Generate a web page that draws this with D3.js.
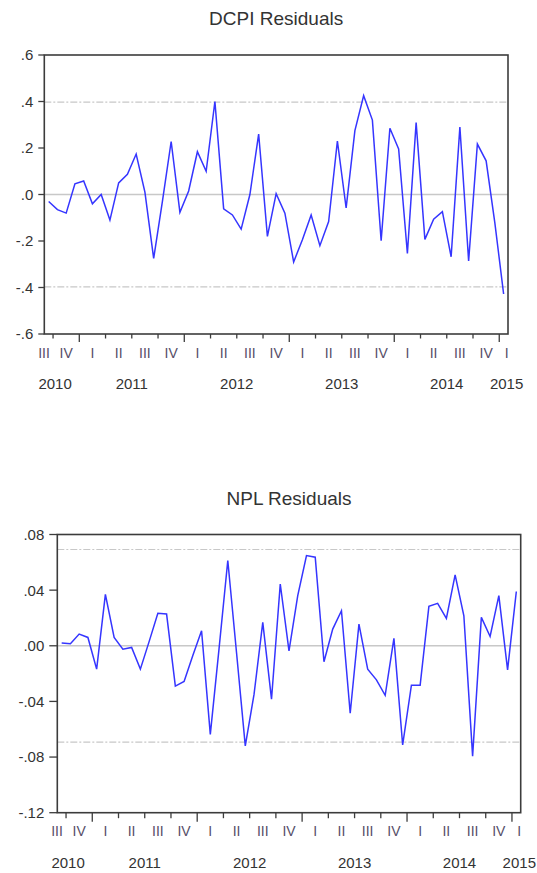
<!DOCTYPE html>
<html>
<head>
<meta charset="utf-8">
<script src="https://cdn.jsdelivr.net/npm/d3@7"></script>
<style>
  html, body { margin: 0; padding: 0; background: #fff; }
  svg { display: block; font-family: "Liberation Sans", Arial, sans-serif; }
</style>
</head>
<body>
<svg id="chart" width="537" height="873"></svg>
<script>
// ---------------- DATA ----------------
// monthly observations, Sep 2010 .. Jan 2015
const months = d3.timeMonth.range(new Date(2010, 8, 1), new Date(2015, 1, 1));

const dcpiResiduals = [
  -0.030, -0.065, -0.080, 0.046, 0.058, -0.040, 0.000, -0.110, 0.050, 0.087,
  0.174, 0.010, -0.275, -0.030, 0.228, -0.077, 0.015, 0.184, 0.100, 0.400,
  -0.062, -0.088, -0.149, 0.000, 0.260, -0.180, 0.004, -0.080, -0.290, -0.195,
  -0.088, -0.220, -0.116, 0.230, -0.058, 0.275, 0.425, 0.320, -0.199, 0.285,
  0.196, -0.254, 0.309, -0.193, -0.106, -0.074, -0.268, 0.290, -0.286, 0.217,
  0.145, -0.123, -0.428
];

const nplResiduals = [
  0.0020, 0.0015, 0.0084, 0.0060, -0.0168, 0.0370, 0.0060, -0.0024, -0.0012, -0.0168,
  0.0030, 0.0233, 0.0228, -0.0290, -0.0257, -0.0070, 0.0108, -0.0637, -0.0020, 0.0613,
  -0.0050, -0.0720, -0.0350, 0.0168, -0.0384, 0.0444, -0.0036, 0.0360, 0.0649, 0.0637,
  -0.0115, 0.0120, 0.0252, -0.0485, 0.0156, -0.0168, -0.0245, -0.0356, 0.0053, -0.0713,
  -0.0283, -0.0283, 0.0283, 0.0305, 0.0197, 0.0510, 0.0216, -0.0793, 0.0204, 0.0067,
  0.0360, -0.0173, 0.0390
];

const dcpiTicks = [-0.6, -0.4, -0.2, 0.0, 0.2, 0.4, 0.6];
const dcpiTickLabels = ["-.6", "-.4", "-.2", ".0", ".2", ".4", ".6"];
const dcpiBands = [-0.397, 0.397];

const nplTicks = [-0.12, -0.08, -0.04, 0.00, 0.04, 0.08];
const nplTickLabels = ["-.12", "-.08", "-.04", ".00", ".04", ".08"];
const nplBands = [-0.0692, 0.0692];

const quarterNames = ["I", "II", "III", "IV"];
const titles = ["DCPI Residuals", "NPL Residuals"];

// ---------------- DRAW ----------------
const svg = d3.select("#chart");

function drawPanel(cfg) {
  const g = svg.append("g");
  const n = months.length;
  const x = d3.scaleLinear().domain([0, n]).range([cfg.left, cfg.right]);
  const y = d3.scaleLinear().domain(cfg.domain).range([cfg.bottom, cfg.top]);

  // title
  g.append("text")
    .attr("x", (cfg.left + cfg.right) / 2)
    .attr("y", cfg.top - 30)
    .attr("text-anchor", "middle")
    .attr("font-size", 19)
    .attr("fill", "#333")
    .text(cfg.title);

  // zero line
  g.append("line")
    .attr("x1", cfg.left).attr("x2", cfg.right)
    .attr("y1", y(0)).attr("y2", y(0))
    .attr("stroke", "#c8c8c8").attr("stroke-width", 1.4);

  // band lines (dash-dot)
  g.selectAll(".band").data(cfg.bands).enter().append("line")
    .attr("x1", cfg.left).attr("x2", cfg.right)
    .attr("y1", d => y(d)).attr("y2", d => y(d))
    .attr("stroke", "#c8c8c8").attr("stroke-width", 1.2)
    .attr("stroke-dasharray", "7,2,2,2");

  // series
  const line = d3.line()
    .x((d, i) => x(i + 0.5))
    .y(d => y(d));
  g.append("path")
    .datum(cfg.values)
    .attr("d", line)
    .attr("fill", "none")
    .attr("stroke", "#3535ff")
    .attr("stroke-width", 1.5)
    .attr("stroke-linejoin", "miter");

  // frame
  g.append("rect")
    .attr("x", cfg.left).attr("y", cfg.top)
    .attr("width", cfg.right - cfg.left).attr("height", cfg.bottom - cfg.top)
    .attr("fill", "none").attr("stroke", "#3c3c3c").attr("stroke-width", 1.6);

  // y axis ticks and labels
  g.selectAll(".ytick").data(cfg.ticks).enter().append("line")
    .attr("x1", cfg.left - cfg.ytick).attr("x2", cfg.left)
    .attr("y1", d => y(d)).attr("y2", d => y(d))
    .attr("stroke", "#3c3c3c").attr("stroke-width", 1.3);
  g.selectAll(".ylab").data(cfg.ticks).enter().append("text")
    .attr("x", cfg.left - cfg.ytick - 5)
    .attr("y", d => y(d))
    .attr("dy", "0.36em")
    .attr("text-anchor", "end")
    .attr("font-size", 15)
    .attr("fill", "#333")
    .text((d, i) => cfg.tickLabels[i]);

  // x axis: quarter boundaries
  const bounds = [];
  months.forEach((m, k) => {
    if (k > 0 && m.getMonth() % 3 === 0) bounds.push({ k, year: m.getMonth() === 0 });
  });
  g.selectAll(".xtick").data(bounds).enter().append("line")
    .attr("x1", d => x(d.k)).attr("x2", d => x(d.k))
    .attr("y1", cfg.bottom).attr("y2", d => cfg.bottom + (d.year ? cfg.majorTick : cfg.minorTick))
    .attr("stroke", "#3c3c3c").attr("stroke-width", 1.3);

  // quarter groups
  function m2key(m) { return m.getFullYear() + "-" + Math.floor(m.getMonth() / 3); }
  const groups = d3.groups(months.map((m, k) => ({ m, k })),
    d => m2key(d.m)).map(([key, arr]) => {
      const s = arr[0].k, e = arr[arr.length - 1].k + 1;
      let cx;
      if (arr.length === 3) cx = x((s + e) / 2);
      else if (s === 0) cx = cfg.left - 0.3;
      else cx = cfg.right - 1.4;
      return { year: arr[0].m.getFullYear(), q: Math.floor(arr[0].m.getMonth() / 3), cx };
    });

  g.selectAll(".qlab").data(groups).enter().append("text")
    .attr("x", d => d.cx)
    .attr("y", cfg.bottom + 23.5)
    .attr("text-anchor", "middle")
    .attr("font-size", 14)
    .attr("fill", "#564e68")
    .text(d => quarterNames[d.q]);

  const years = d3.groups(groups, d => d.year).map(([yr, arr]) => ({
    yr, cx: d3.mean(arr, d => d.cx)
  }));
  g.selectAll(".ylab2").data(years).enter().append("text")
    .attr("x", d => d.cx)
    .attr("y", cfg.bottom + 55)
    .attr("text-anchor", "middle")
    .attr("font-size", 15)
    .attr("fill", "#333")
    .text(d => d.yr);
}

drawPanel({
  title: titles[0], values: dcpiResiduals, domain: [-0.6, 0.6],
  ticks: dcpiTicks, tickLabels: dcpiTickLabels, bands: dcpiBands,
  left: 44.3, right: 508, top: 55, bottom: 334,
  ytick: 6, minorTick: 4.5, majorTick: 8
});
drawPanel({
  title: titles[1], values: nplResiduals, domain: [-0.12, 0.08],
  ticks: nplTicks, tickLabels: nplTickLabels, bands: nplBands,
  left: 57.3, right: 520.7, top: 534.5, bottom: 812.7,
  ytick: 8, minorTick: 5.5, majorTick: 9
});
</script>
</body>
</html>
